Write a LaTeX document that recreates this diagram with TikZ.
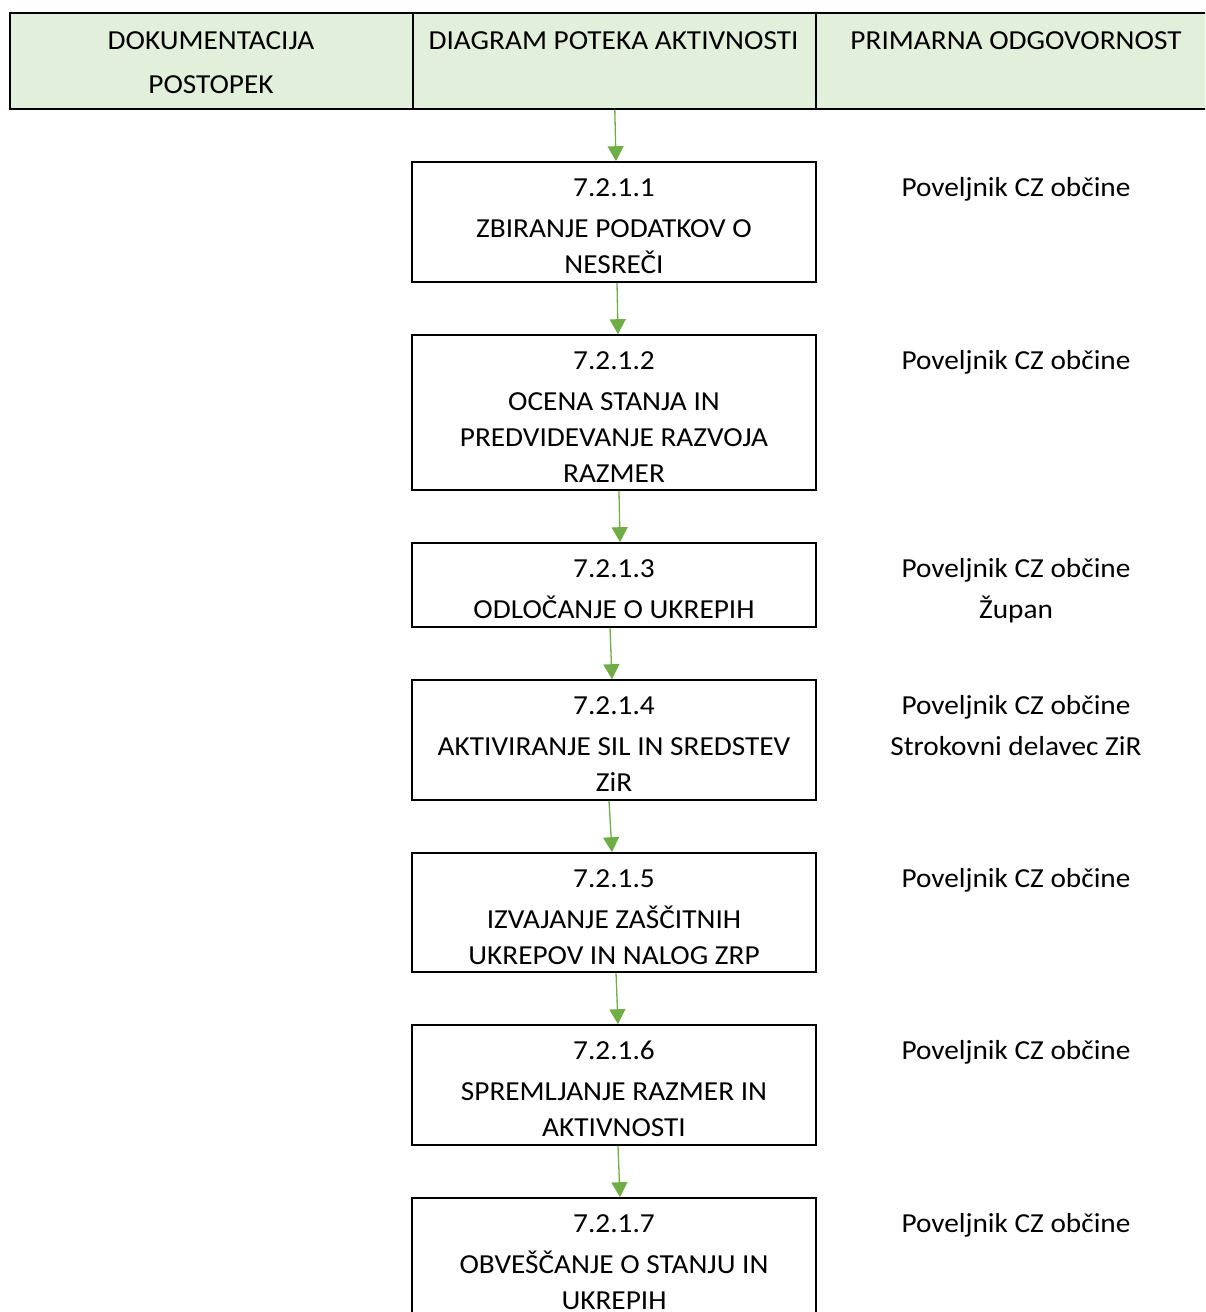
\documentclass[tikz,border=0pt]{standalone}
\usepackage{fontspec}
\setmainfont{Carlito}[FakeStretch=1.065]
\usetikzlibrary{arrows.meta}
\definecolor{hdrgreen}{HTML}{E2EFDA}
\definecolor{flowgreen}{HTML}{70AD47}
\begin{document}
\begin{tikzpicture}[x=1pt,y=-1pt,
  cell/.style={draw=black, line width=1.6pt, fill=hdrgreen, inner sep=0pt,
               anchor=north west, minimum height=96pt},
  stepbox/.style={draw=black, line width=1.6pt, inner sep=0pt,
                  minimum width=404pt},
  lbl/.style={font=\fontsize{27.5}{32}\selectfont, inner sep=0pt, anchor=base},
  flow/.style={draw=flowgreen, line width=1.3pt,
               -{Triangle[length=15pt,width=16pt]}}]
\clip (0,0) rectangle (1205,1312);

% header row
\node[cell, minimum width=403pt] (h1) at (9,12) {};
\node[cell, minimum width=403pt] (h2) at (412,12) {};
\node[cell, minimum width=400pt] (h3) at (815,12) {};
\node[lbl] (h1a) at (211,49.5) {DOKUMENTACIJA};
\node[lbl] (h1b) at (211,93.5) {POSTOPEK};
\node[lbl] (h2a) at (613.5,49.5) {DIAGRAM POTEKA AKTIVNOSTI};
\node[lbl] (h3a) at (1016,49.5) {PRIMARNA ODGOVORNOST};

% activity boxes
\node[stepbox, minimum height=120pt] (b1) at (614,222) {};
\node[stepbox, minimum height=155pt] (b2) at (614,412.5) {};
\node[stepbox, minimum height=84pt]  (b3) at (614,585) {};
\node[stepbox, minimum height=120pt] (b4) at (614,740) {};
\node[stepbox, minimum height=119pt] (b5) at (614,912.5) {};
\node[stepbox, minimum height=120pt] (b6) at (614,1085) {};
\node[stepbox, minimum height=140pt] (b7) at (614,1268) {};

% box texts
\node[lbl] (t1a) at (614,196.5) {7.2.1.1};
\node[lbl] (t1b) at (614,237.5) {ZBIRANJE PODATKOV O};
\node[lbl] (t1c) at (614,273.5) {NESREČI};

\node[lbl] (t2a) at (614,369.5) {7.2.1.2};
\node[lbl] (t2b) at (614,410.5) {OCENA STANJA IN};
\node[lbl] (t2c) at (614,446.5) {PREDVIDEVANJE RAZVOJA};
\node[lbl] (t2d) at (614,482.5) {RAZMER};

\node[lbl] (t3a) at (614,577.5) {7.2.1.3};
\node[lbl] (t3b) at (614,618.5) {ODLOČANJE O UKREPIH};

\node[lbl] (t4a) at (614,714.5) {7.2.1.4};
\node[lbl] (t4b) at (614,755.5) {AKTIVIRANJE SIL IN SREDSTEV};
\node[lbl] (t4c) at (614,791.5) {ZiR};

\node[lbl] (t5a) at (614,887.5) {7.2.1.5};
\node[lbl] (t5b) at (614,928.5) {IZVAJANJE ZAŠČITNIH};
\node[lbl] (t5c) at (614,964.5) {UKREPOV IN NALOG ZRP};

\node[lbl] (t6a) at (614,1059.5) {7.2.1.6};
\node[lbl] (t6b) at (614,1100.5) {SPREMLJANJE RAZMER IN};
\node[lbl] (t6c) at (614,1136.5) {AKTIVNOSTI};

\node[lbl] (t7a) at (614,1232.5) {7.2.1.7};
\node[lbl] (t7b) at (614,1273.5) {OBVEŠČANJE O STANJU IN};
\node[lbl] (t7c) at (614,1309.5) {UKREPIH};

% responsibilities
\node[lbl] (r1)  at (1016,196.5) {Poveljnik CZ občine};
\node[lbl] (r2)  at (1016,369.5) {Poveljnik CZ občine};
\node[lbl] (r3a) at (1016,577.5) {Poveljnik CZ občine};
\node[lbl] (r3b) at (1016,618.5) {Župan};
\node[lbl] (r4a) at (1016,714.5) {Poveljnik CZ občine};
\node[lbl] (r4b) at (1016,755.5) {Strokovni delavec ZiR};
\node[lbl] (r5)  at (1016,887.5) {Poveljnik CZ občine};
\node[lbl] (r6)  at (1016,1059.5) {Poveljnik CZ občine};
\node[lbl] (r7)  at (1016,1232.5) {Poveljnik CZ občine};

% flow connectors
\draw[flow] ([xshift=0.5pt]h2.south) -- ([xshift=2pt]b1.north);
\draw[flow] ([xshift=3pt]b1.south) -- ([xshift=4pt]b2.north);
\draw[flow] ([xshift=5pt]b2.south) -- ([xshift=6pt]b3.north);
\draw[flow] ([xshift=-4pt]b3.south) -- ([xshift=-2pt]b4.north);
\draw[flow] ([xshift=-5pt]b4.south) -- ([xshift=-2pt]b5.north);
\draw[flow] ([xshift=2pt]b5.south) -- ([xshift=4pt]b6.north);
\draw[flow] ([xshift=4pt]b6.south) -- ([xshift=6pt]b7.north);
\end{tikzpicture}
\end{document}
